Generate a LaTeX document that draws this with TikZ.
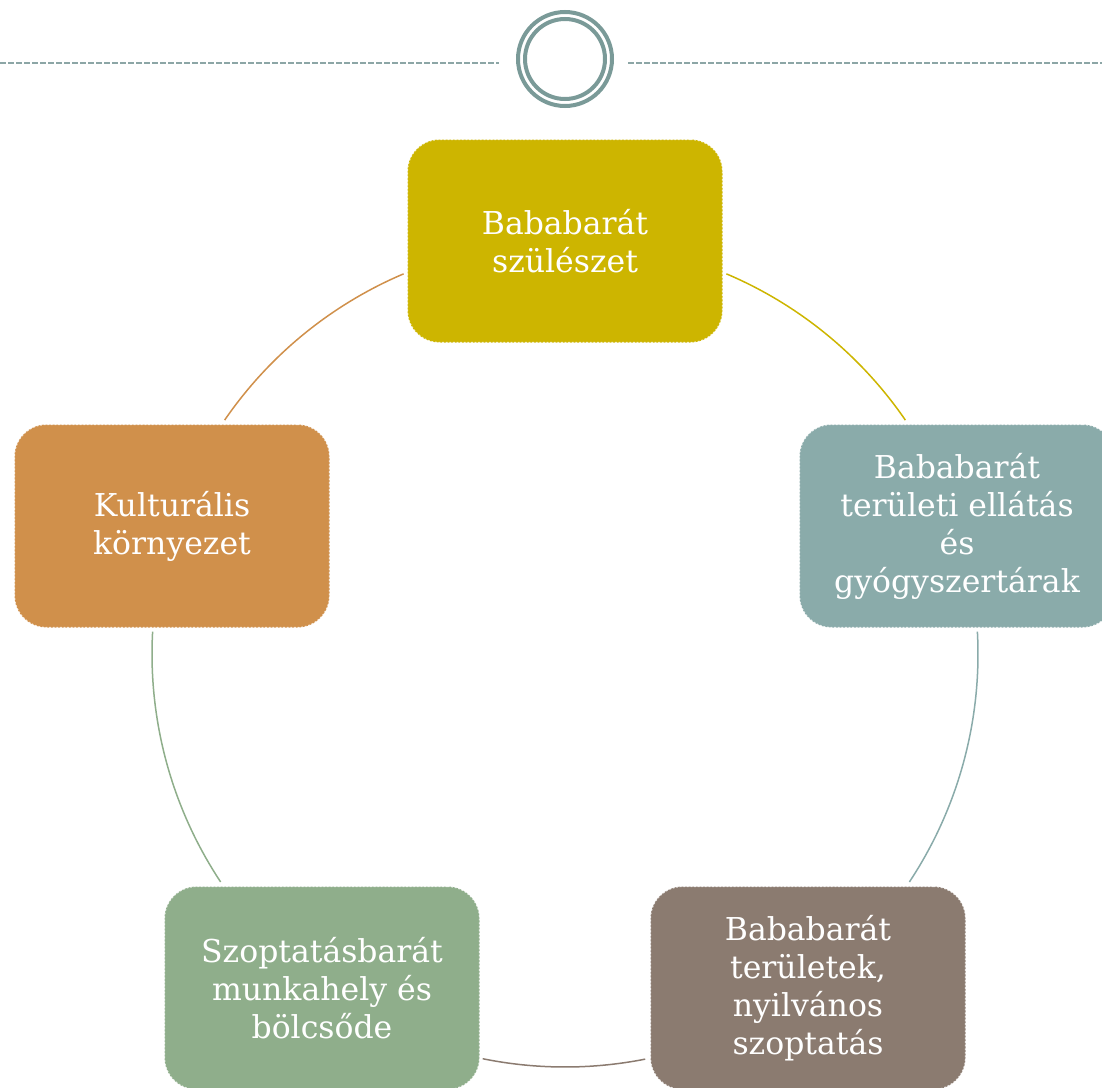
\documentclass[tikz,border=0pt]{standalone}
\usepackage{fontspec}
\setmainfont{DejaVu Serif}
\definecolor{ctop}{RGB}{205,181,0}
\definecolor{cright}{RGB}{138,171,170}
\definecolor{cbr}{RGB}{139,123,112}
\definecolor{cbl}{RGB}{143,174,139}
\definecolor{cleft}{RGB}{208,144,75}
\definecolor{cdeco}{RGB}{122,154,152}
\definecolor{cdash}{RGB}{140,166,166}
\begin{document}
\begin{tikzpicture}[x=1pt,y=1pt,
  box/.style={rounded corners=32pt, minimum width=315pt, minimum height=203pt,
    align=center, text=white, inner sep=0pt,
    draw=white, draw opacity=0.75, line width=1.2pt, dash pattern=on 1.8pt off 1.8pt,
    font=\fontsize{31.5}{38}\selectfont},
  ring/.style={draw=cdeco, line width=4pt},
  arcline/.style={line width=1.5pt},
  decoline/.style={draw=cdash, line width=1.5pt, dash pattern=on 6pt off 2pt}]
\useasboundingbox (0,0) rectangle (1102,-1087);
% decoration
\node[ring, circle, minimum size=94pt, inner sep=0pt] (ringout) at (565,-59) {};
\node[ring, circle, minimum size=80pt, inner sep=0pt] (ringin) at (565,-59) {};
\coordinate (dl0) at (0,-63);
\coordinate (dl1) at (499,-63);
\coordinate (dr0) at (628,-63);
\coordinate (dr1) at (1102,-63);
\draw[decoline] (dl0) -- (dl1);
\draw[decoline] (dr0) -- (dr1);
% cycle centre
\coordinate (c) at (565,-654);
% arcs
\draw[arcline, draw=ctop] ([shift={(67:413pt)}]c) arc[start angle=67, end angle=34.5, radius=413pt];
\draw[arcline, draw=cright] ([shift={(3.1:413pt)}]c) arc[start angle=3.1, end angle=-33.5, radius=413pt];
\draw[arcline, draw=cbr] ([shift={(-78.8:413pt)}]c) arc[start angle=-78.8, end angle=-101.5, radius=413pt];
\draw[arcline, draw=cbl] ([shift={(-146.5:413pt)}]c) arc[start angle=-146.5, end angle=-183.1, radius=413pt];
\draw[arcline, draw=cleft] ([shift={(145.5:413pt)}]c) arc[start angle=145.5, end angle=113, radius=413pt];
% boxes
\node[box, fill=ctop] (top) at (565,-241) {Bababarát\\szülészet};
\node[box, fill=cright] (right) at (957,-526) {Bababarát\\területi ellátás\\és\\gyógyszertárak};
\node[box, fill=cbr] (br) at (808,-988) {Bababarát\\területek,\\nyilvános\\szoptatás};
\node[box, fill=cbl] (bl) at (322,-988) {Szoptatásbarát\\munkahely és\\bölcsőde};
\node[box, fill=cleft] (left) at (172,-526) {Kulturális\\környezet};
\end{tikzpicture}
\end{document}
